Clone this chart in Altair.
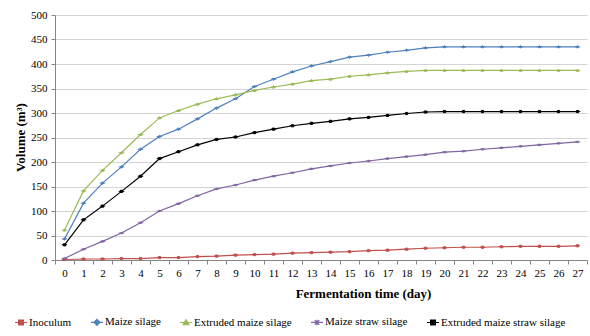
import altair as alt
import pandas as pd

days = list(range(28))
series_names = ["Inoculum", "Maize silage", "Extruded maize silage",
                "Maize straw silage", "Extruded maize straw silage"]
inoculum = [1, 2, 2, 3, 3, 5, 5, 7, 8, 10, 11, 12, 14, 15, 16, 17, 19, 20, 22, 24,
            25, 26, 26, 27, 28, 28, 28, 29]
maize_silage = [43, 116, 157, 190, 226, 252, 267, 288, 310, 329, 354, 369, 384, 396,
                405, 414, 418, 424, 428, 433, 435, 435, 435, 435, 435, 435, 435, 435]
extruded_maize = [61, 141, 183, 219, 256, 290, 305, 318, 329, 337, 346, 353, 359, 366,
                  369, 375, 378, 382, 385, 387, 387, 387, 387, 387, 387, 387, 387, 387]
maize_straw = [3, 22, 38, 55, 76, 100, 115, 131, 145, 153, 163, 171, 178, 186, 192,
               198, 202, 207, 211, 215, 220, 222, 226, 229, 232, 235, 238, 241]
extruded_straw = [31, 82, 110, 140, 171, 207, 221, 235, 246, 251, 260, 267, 274, 279,
                  283, 288, 291, 295, 299, 302, 303, 303, 303, 303, 303, 303, 303, 303]

colors = ["#C0504D", "#4F81BD", "#9BBB59", "#8064A2", "#000000"]
shapes = [
    "M-1,0H1M-0.4,-0.4H0.4V0.4H-0.4Z",
    "M-1,0H1M0,-0.5L0.5,0L0,0.5L-0.5,0Z",
    "M-1,0H1M0,-0.48L0.48,0.36L-0.48,0.36Z",
    "M-1,0H1M-0.38,-0.38L0.38,0.38M-0.38,0.38L0.38,-0.38M0,-0.45V0.45",
    "M-1,0H1M-0.4,-0.4H0.4V0.4H-0.4Z",
]

all_values = [inoculum, maize_silage, extruded_maize, maize_straw, extruded_straw]
rows = []
for i, (name, vals) in enumerate(zip(series_names, all_values)):
    for d, v in zip(days, vals):
        rows.append({"day": d, "volume": v, "series": name, "k": i})
df = pd.DataFrame(rows)

FONT = "Liberation Serif"

x_enc = alt.X(
    "day:O",
    bandPosition=0.5,
    scale=alt.Scale(type="band", paddingInner=0, paddingOuter=0),
    axis=alt.Axis(
        title="Fermentation time (day)", labelAngle=0, tickBand="extent",
        tickSize=4, labelPadding=3,
        titleX=308, titleY=33, titleAlign="center", titleBaseline="middle",
        grid=False,
    ),
)
y_enc = alt.Y(
    "volume:Q",
    scale=alt.Scale(domain=[0, 500], nice=False),
    axis=alt.Axis(
        title="Volume (m³)", values=list(range(0, 501, 50)),
        tickSize=4, gridColor="#D4D4D4", gridWidth=1, labelPadding=4,
        titleX=-35, titleY=122, titleAlign="center", titleBaseline="middle",
        titleAngle=-90,
    ),
)

color_scale = alt.Scale(domain=series_names, range=colors)
shape_scale = alt.Scale(domain=series_names, range=shapes)

lines = alt.Chart(df).mark_line(strokeWidth=1.2).encode(
    x=x_enc, y=y_enc,
    color=alt.Color("series:N", scale=color_scale, title=None),
    order=alt.Order("day:O"),
)

points = alt.Chart(df).mark_point(filled=True, size=30, strokeWidth=1, opacity=1).encode(
    x=x_enc, y=y_enc,
    color=alt.Color("series:N", scale=color_scale, title=None),
    stroke=alt.Stroke("series:N", scale=color_scale, title=None),
    shape=alt.Shape("series:N", scale=shape_scale, title=None),
)

chart = alt.layer(lines, points).properties(
    width=532, height=245,
    autosize=alt.AutoSizeParams(type="none"),
    padding={"left": 55, "top": 15, "right": 3, "bottom": 76},
).configure_view(stroke=None).configure_axis(
    labelFont=FONT, labelFontSize=11, labelColor="#000",
    titleFont=FONT, titleFontSize=13, titleFontWeight="bold", titleColor="#000",
    tickColor="#868686", domainColor="#868686",
).configure_legend(
    orient="none", legendX=-41, legendY=300, direction="horizontal",
    columnPadding=16, symbolSize=144, symbolStrokeWidth=1.2, symbolOpacity=1,
    labelFont=FONT, labelFontSize=11, labelColor="#000", labelOffset=1,
    padding=0,
)

chart.save("out.html", embed_options={"renderer": "svg", "actions": False})
